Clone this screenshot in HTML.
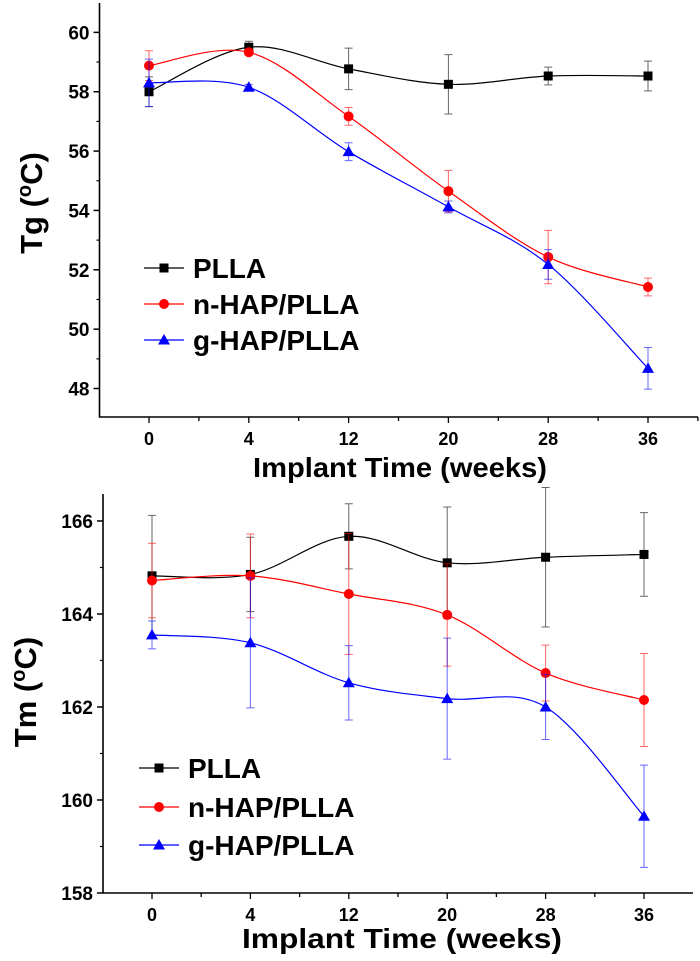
<!DOCTYPE html>
<html><head><meta charset="utf-8"><style>
html,body{margin:0;padding:0;background:#fff;}
svg{display:block;font-family:"Liberation Sans",Arial,sans-serif;font-weight:bold;}
</style></head><body>
<svg id="svg" width="700" height="961" viewBox="0 0 700 961"></svg>
<script>
const categories = ["0","4","12","20","28","36"];
const tgPLLA = [58.0,59.5,58.77,58.25,58.53,58.53];
const tgPLLAErr = [0.5,0.2,0.7,1.0,0.3,0.5];
const tgNHAP = [58.88,59.33,57.17,54.65,52.43,51.42];
const tgNHAPErr = [0.5,0.1,0.3,0.7,0.9,0.3];
const tgGHAP = [58.3,58.15,55.98,54.12,52.18,48.68];
const tgGHAPErr = [0.8,0.1,0.3,0.2,0.5,0.7];
const tgTicks = [48,50,52,54,56,58,60];
const tmPLLA = [164.82,164.85,165.67,165.1,165.22,165.28];
const tmPLLAErr = [1.3,0.8,0.7,1.2,1.5,0.9];
const tmNHAP = [164.72,164.82,164.43,163.98,162.73,162.15];
const tmNHAPErr = [0.8,0.9,1.3,1.1,0.6,1.0];
const tmGHAP = [163.55,163.38,162.52,162.18,162.0,159.65];
const tmGHAPErr = [0.3,1.4,0.8,1.3,0.7,1.1];
const tmTicks = [158,160,162,164,166];
const seriesNames = ["PLLA","n-HAP/PLLA","g-HAP/PLLA"];

const NS="http://www.w3.org/2000/svg";
const svg=document.getElementById('svg');
function mk(tag,attrs,parent){const e=document.createElementNS(NS,tag);for(const k in attrs)e.setAttribute(k,attrs[k]);(parent||svg).appendChild(e);return e;}

function spline(pts){
  let d=`M${pts[0][0]},${pts[0][1]}`;
  for(let i=0;i<pts.length-1;i++){
    const p0=pts[Math.max(i-1,0)],p1=pts[i],p2=pts[i+1],p3=pts[Math.min(i+2,pts.length-1)];
    const c1=[p1[0]+(p2[0]-p0[0])/6,p1[1]+(p2[1]-p0[1])/6];
    const c2=[p2[0]-(p3[0]-p1[0])/6,p2[1]-(p3[1]-p1[1])/6];
    d+=` C${c1[0]},${c1[1]} ${c2[0]},${c2[1]} ${p2[0]},${p2[1]}`;
  }
  return d;
}

function marker(g,shape,x,y,color){
  let m;
  if(shape==='sq') m=mk('rect',{x:x-4.5,y:y-4.5,width:9,height:9,fill:color},g);
  else if(shape==='ci') m=mk('circle',{cx:x,cy:y,r:5,fill:color},g);
  else m=mk('polygon',{points:`${x},${y-6} ${x-6},${y+4.5} ${x+6},${y+4.5}`,fill:color},g);
  return m;
}

function chart(cfg){
  const g=mk('g',{});
  
  
  const X=i=>cfg.x0+i*cfg.dx;
  const Y=v=>cfg.yb-(v-cfg.ymin)*(cfg.yb-cfg.yt)/(cfg.ymax-cfg.ymin);
  const ax=mk('path',{d:`M${cfg.ax},${cfg.yt} L${cfg.ax},${cfg.yb} L${cfg.axr},${cfg.yb}`,stroke:'#000','stroke-width':1.6,fill:'none'},g);
  
  
  cfg.ticks.forEach(t=>{
    const y=Y(t);
    mk('line',{x1:cfg.ax-6,y1:y,x2:cfg.ax,y2:y,stroke:'#000','stroke-width':1.5},g);
    const mn=Y(t+1);
    if(mn>cfg.yt) mk('line',{x1:cfg.ax-3,y1:mn,x2:cfg.ax,y2:mn,stroke:'#000','stroke-width':1.2},g);
    const mb=Y(t-1);
    if(mb<cfg.yb-2 && t===cfg.ticks[0]) mk('line',{x1:cfg.ax-3,y1:mb,x2:cfg.ax,y2:mb,stroke:'#000','stroke-width':1.2},g);
    const tl=mk('text',{x:cfg.ax-10,y:y+7,'text-anchor':'end','font-size':19},g);
    tl.textContent=t;
    
    
  });
  for(let k=-0.5;k<=5.5;k+=0.5){
    const x=X(k); if(x<=cfg.ax+2||x>cfg.axr)continue;
    const major=Number.isInteger(k);
    mk('line',{x1:x,y1:cfg.yb,x2:x,y2:cfg.yb+(major?6:4),stroke:'#000','stroke-width':1.3},g);
  }
  categories.forEach((c,i)=>{
    const tl=mk('text',{x:X(i),y:cfg.yb+28,'text-anchor':'middle','font-size':18},g);
    tl.textContent=c;
    
    
  });
  const xt=mk('text',{x:cfg.xtx,y:cfg.xty,'text-anchor':'middle','font-size':28,textLength:cfg.xtw,lengthAdjust:'spacingAndGlyphs'},g);
  xt.textContent='Implant Time (weeks)';
  
  
  const yt=mk('text',{x:0,y:0,'text-anchor':'middle','font-size':31,transform:`translate(${cfg.ytx},${cfg.yty}) rotate(-90)`},g);
  yt.innerHTML=cfg.ylab+' (<tspan font-size="20" dy="-11">o</tspan><tspan dy="11">C)</tspan>';
  
  
  const colors=['#000000','#ff0000','#0000ff'];
  const shapes=['sq','ci','tr'];
  cfg.series.forEach((s,si)=>{
    const sg=mk('g',{},g);
    
    
    const col=colors[si];
    const pts=s.v.map((v,i)=>[X(i),Y(v)]);
    mk('path',{d:spline(pts),stroke:col,'stroke-width':1.2,fill:'none'},sg);
    s.v.forEach((v,i)=>{
      const x=X(i),y1=Y(v+s.e[i]),y2=Y(v-s.e[i]);
      const eb=mk('path',{d:`M${x},${y1} L${x},${y2} M${x-4},${y1} L${x+4},${y1} M${x-4},${y2} L${x+4},${y2}`,stroke:col,'stroke-width':1,'stroke-opacity':0.6,fill:'none'},sg);
      
      
      const m=marker(sg,shapes[si],x,Y(v),col);
      
      
    });
    const ly=cfg.legY[si];
    const lg=mk('g',{},g);
    
    
    mk('line',{x1:cfg.legX,y1:ly,x2:cfg.legX+40,y2:ly,stroke:col,'stroke-width':1.3},lg);
    marker(lg,shapes[si],cfg.legX+20,ly,col);
    const lt=mk('text',{x:cfg.legX+49,y:ly+10,'font-size':28},lg);
    lt.textContent=seriesNames[si];
  });
}

chart({name:'tg-chart',ax:99.5,axr:698,yt:3,yb:417,ymin:47.04,ymax:60.99,x0:149,dx:99.8,
  ticks:tgTicks,ylab:'Tg',ytx:42,yty:203,xtx:400,xty:477,xtw:294,legX:144,legY:[268,304,340],
  series:[{v:tgPLLA,e:tgPLLAErr},{v:tgNHAP,e:tgNHAPErr},{v:tgGHAP,e:tgGHAPErr}]});
chart({name:'tm-chart',ax:103,axr:693,yt:494,yb:893,ymin:158,ymax:166.58,x0:152,dx:98.4,
  ticks:tmTicks,ylab:'Tm',ytx:36,yty:692,xtx:402,xty:948,xtw:320,legX:139,legY:[768,807,845],
  series:[{v:tmPLLA,e:tmPLLAErr},{v:tmNHAP,e:tmNHAPErr},{v:tmGHAP,e:tmGHAPErr}]});
</script>
</body></html>
